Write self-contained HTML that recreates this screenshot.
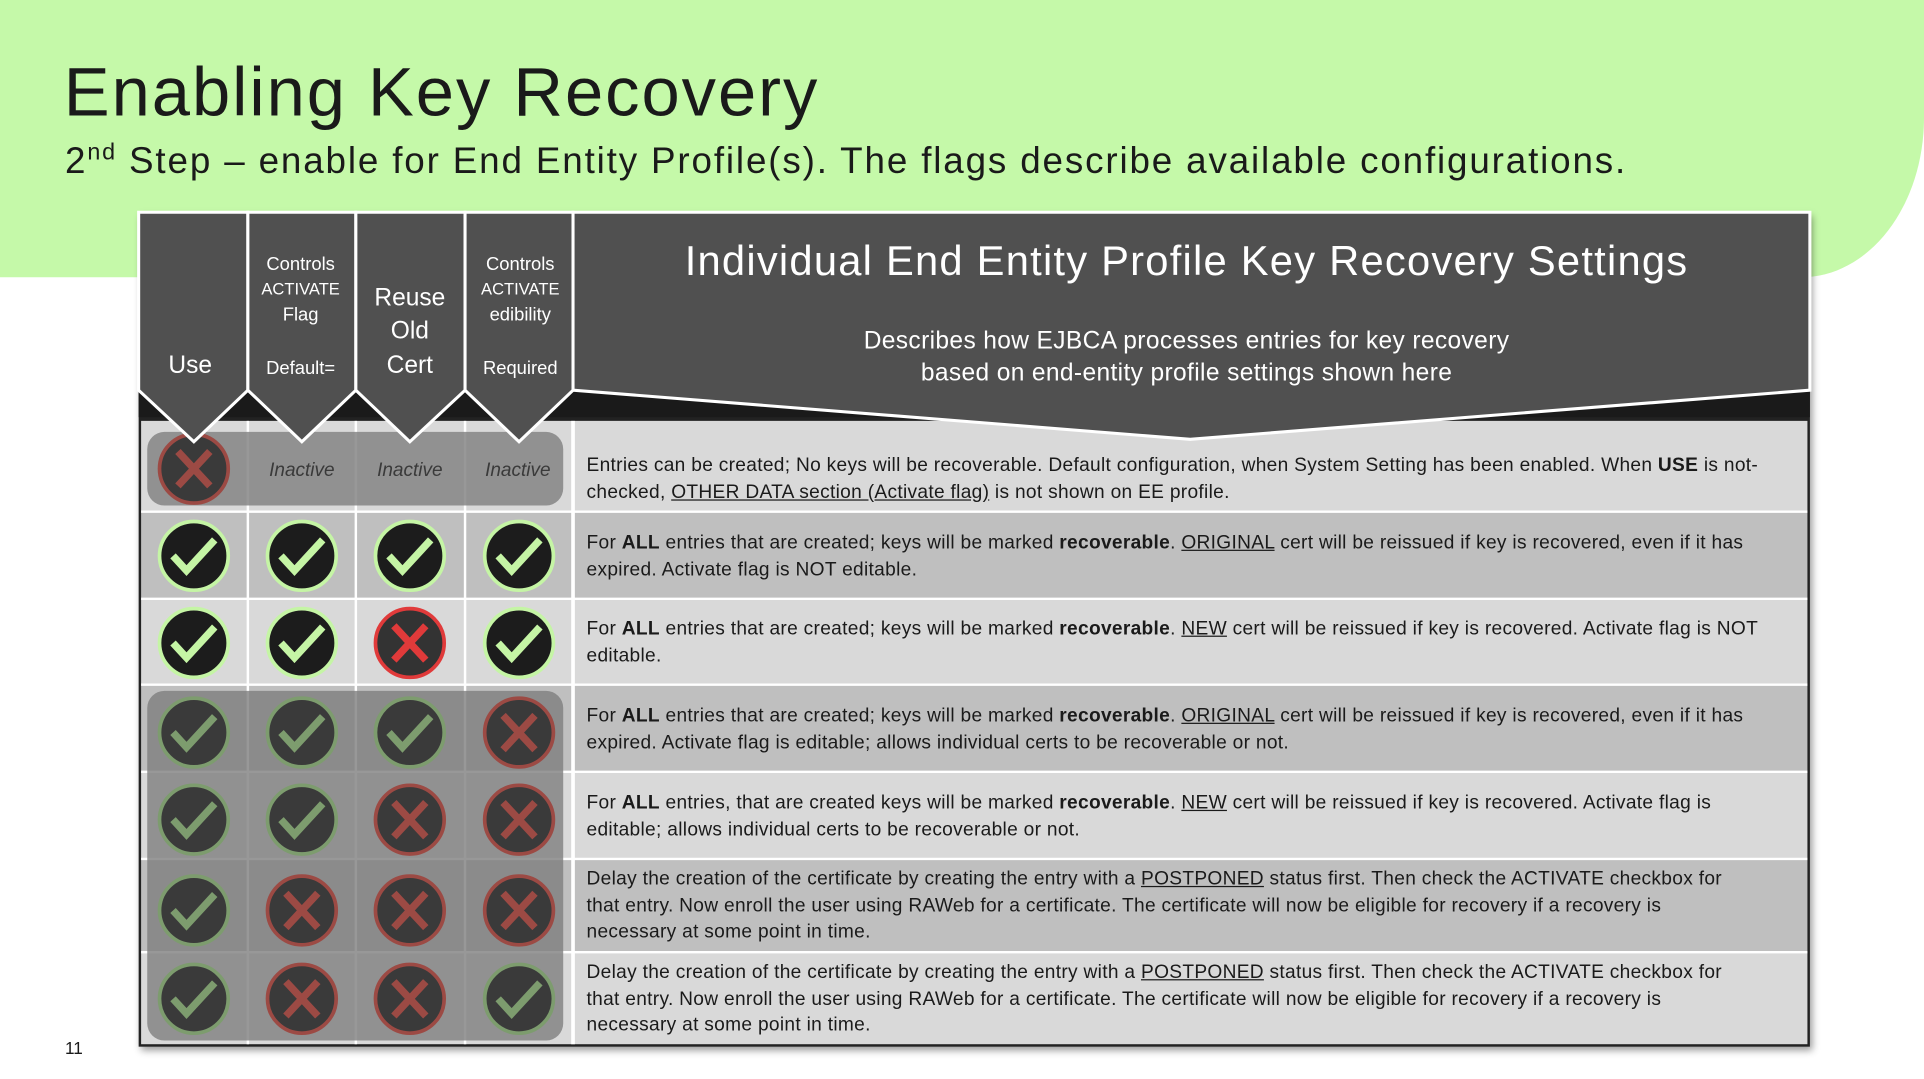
<!DOCTYPE html>
<html><head><meta charset="utf-8"><style>
html,body{margin:0;padding:0;width:1924px;height:1078px;overflow:hidden;background:#fff}
#w{position:absolute;left:0;top:0;width:1568px;height:879px;transform:scale(1.22704);transform-origin:0 0;font-family:"Liberation Sans",sans-serif}
.t{position:absolute;left:478px;width:968px;font-size:15.6px;line-height:21.5px;color:#1a1a1a;letter-spacing:0.25px}
.t u{text-decoration:underline}
svg{position:absolute;left:0;top:0}
</style></head><body><div id="w">
<div style="position:absolute;left:0;top:0;width:1568px;height:226px;background:#c5f9a9;border-bottom-right-radius:100px 130px"></div>
<div style="position:absolute;left:52px;top:42px;font-size:56px;color:#1a1a1a;letter-spacing:1.6px">Enabling Key Recovery</div>
<div style="position:absolute;left:53px;top:114px;font-size:30px;color:#1a1a1a;letter-spacing:1.5px">2<sup style="font-size:19px">nd</sup> Step – enable for End Entity Profile(s). The flags describe available configurations.</div>
<svg width="1568" height="879" viewBox="0 0 1568 879">
<defs>
<filter id="sh" x="-5%" y="-5%" width="110%" height="110%"><feDropShadow dx="2" dy="3" stdDeviation="3" flood-opacity="0.4"/></filter>
<g id="ck"><circle r="28" fill="#1c1c1c" stroke="#c5f5a5" stroke-width="3"/><polyline points="-17,0 -6,12 17,-13" fill="none" stroke="#c5f5a5" stroke-width="6"/></g>
<g id="xx"><circle r="28" fill="#333" stroke="#e03a3a" stroke-width="3"/><path d="M-13,-14 L13,14 M13,-14 L-13,14" stroke="#e03a3a" stroke-width="6"/></g>
<g id="dck"><circle r="28" fill="#3a3a3a" stroke="#7d9c6e" stroke-width="3"/><polyline points="-17,0 -6,12 17,-13" fill="none" stroke="#7d9c6e" stroke-width="6"/></g>
<g id="dxx"><circle r="28" fill="#3a3a3a" stroke="#9c4a44" stroke-width="3"/><path d="M-13,-14 L13,14 M13,-14 L-13,14" stroke="#9c4a44" stroke-width="6"/></g>
</defs>
<rect x="113" y="173" width="1362" height="680" fill="#222" filter="url(#sh)"/>
<rect x="115" y="343" width="1358" height="74" fill="#d9d9d9"/>
<rect x="115" y="417" width="1358" height="71" fill="#bfbfbf"/>
<rect x="115" y="488" width="1358" height="70" fill="#d9d9d9"/>
<rect x="115" y="558" width="1358" height="71" fill="#bfbfbf"/>
<rect x="115" y="629" width="1358" height="71" fill="#d9d9d9"/>
<rect x="115" y="700" width="1358" height="76" fill="#bfbfbf"/>
<rect x="115" y="776" width="1358" height="75" fill="#d9d9d9"/>
<g stroke="#fff" stroke-width="2">
<line x1="115" y1="417" x2="1473" y2="417"/><line x1="115" y1="488" x2="1473" y2="488"/><line x1="115" y1="558" x2="1473" y2="558"/><line x1="115" y1="629" x2="1473" y2="629"/><line x1="115" y1="700" x2="1473" y2="700"/><line x1="115" y1="776" x2="1473" y2="776"/>
<line x1="202" y1="343" x2="202" y2="851"/><line x1="290" y1="343" x2="290" y2="851"/><line x1="379" y1="343" x2="379" y2="851"/><line x1="467" y1="343" x2="467" y2="851" stroke-width="3"/>
</g>
<rect x="120" y="352" width="339" height="60" rx="14" fill="#7e7e7e" opacity="0.8"/>
<rect x="120" y="563" width="339" height="285" rx="14" fill="#7e7e7e" opacity="0.8"/>
<use href="#dxx" x="158" y="382"/>
<use href="#ck" x="158" y="453"/><use href="#ck" x="246" y="453"/><use href="#ck" x="334" y="453"/><use href="#ck" x="423" y="453"/>
<use href="#ck" x="158" y="524"/><use href="#ck" x="246" y="524"/><use href="#xx" x="334" y="524"/><use href="#ck" x="423" y="524"/>
<use href="#dck" x="158" y="597"/><use href="#dck" x="246" y="597"/><use href="#dck" x="334" y="597"/><use href="#dxx" x="423" y="597"/>
<use href="#dck" x="158" y="668"/><use href="#dck" x="246" y="668"/><use href="#dxx" x="334" y="668"/><use href="#dxx" x="423" y="668"/>
<use href="#dck" x="158" y="742"/><use href="#dxx" x="246" y="742"/><use href="#dxx" x="334" y="742"/><use href="#dxx" x="423" y="742"/>
<use href="#dck" x="158" y="814"/><use href="#dxx" x="246" y="814"/><use href="#dxx" x="334" y="814"/><use href="#dck" x="423" y="814"/>
<g font-family="Liberation Sans" font-style="italic" font-size="15.5" fill="#3a3a3a" text-anchor="middle">
<text x="246" y="388">Inactive</text><text x="334" y="388">Inactive</text><text x="422" y="388">Inactive</text></g>
<rect x="113" y="300" width="1362" height="40" fill="#1a1a1a"/>
<g fill="#505050" stroke="#fff" stroke-width="2.5" stroke-linejoin="miter">
<polygon points="113,173 202,173 202,318 158,360 113,318"/>
<polygon points="202,173 290,173 290,318 246,360 202,318"/>
<polygon points="290,173 379,173 379,318 334,360 290,318"/>
<polygon points="379,173 467,173 467,318 423,360 379,318"/>
<polygon points="467,173 1475,173 1475,318 970,358 467,318"/>
</g>
<g font-family="Liberation Sans" fill="#fff" text-anchor="middle">
<text x="155" y="304" font-size="20">Use</text>
<text x="245" y="220" font-size="15">Controls</text><text x="245" y="240" font-size="13.5">ACTIVATE</text><text x="245" y="261" font-size="15">Flag</text><text x="245" y="305" font-size="15">Default=</text>
<text x="334" y="249" font-size="20">Reuse</text><text x="334" y="276" font-size="20">Old</text><text x="334" y="304" font-size="20">Cert</text>
<text x="424" y="220" font-size="15">Controls</text><text x="424" y="240" font-size="13.5">ACTIVATE</text><text x="424" y="261" font-size="15">edibility</text><text x="424" y="305" font-size="15">Required</text>
<text x="967" y="224" font-size="34" letter-spacing="1">Individual End Entity Profile Key Recovery Settings</text>
<text x="967" y="284" font-size="20" letter-spacing="0.3">Describes how EJBCA processes entries for key recovery</text>
<text x="967" y="310" font-size="20" letter-spacing="0.3">based on end-entity profile settings shown here</text>
</g>
<text x="53" y="859" font-family="Liberation Sans" font-size="14" fill="#1a1a1a">11</text>
</svg>
<div class="t" style="top:369px">Entries can be created; No keys will be recoverable. Default configuration, when System Setting has been enabled. When <b>USE</b> is not-checked, <u>OTHER DATA section (Activate flag)</u> is not shown on EE profile.</div>
<div class="t" style="top:432px">For <b>ALL</b> entries that are created; keys will be marked <b>recoverable</b>. <u>ORIGINAL</u> cert will be reissued if key is recovered, even if it has expired. Activate flag is NOT editable.</div>
<div class="t" style="top:502px">For <b>ALL</b> entries that are created; keys will be marked <b>recoverable</b>. <u>NEW</u> cert will be reissued if key is recovered. Activate flag is NOT editable.</div>
<div class="t" style="top:573px">For <b>ALL</b> entries that are created; keys will be marked <b>recoverable</b>. <u>ORIGINAL</u> cert will be reissued if key is recovered, even if it has expired. Activate flag is editable; allows individual certs to be recoverable or not.</div>
<div class="t" style="top:644px">For <b>ALL</b> entries, that are created keys will be marked <b>recoverable</b>. <u>NEW</u> cert will be reissued if key is recovered. Activate flag is editable; allows individual certs to be recoverable or not.</div>
<div class="t" style="top:706px">Delay the creation of the certificate by creating the entry with a <u>POSTPONED</u> status first. Then check the ACTIVATE checkbox for<br>that entry. Now enroll the user using RAWeb for a certificate. The certificate will now be eligible for recovery if a recovery is<br>necessary at some point in time.</div>
<div class="t" style="top:782px">Delay the creation of the certificate by creating the entry with a <u>POSTPONED</u> status first. Then check the ACTIVATE checkbox for<br>that entry. Now enroll the user using RAWeb for a certificate. The certificate will now be eligible for recovery if a recovery is<br>necessary at some point in time.</div>
</div></body></html>
